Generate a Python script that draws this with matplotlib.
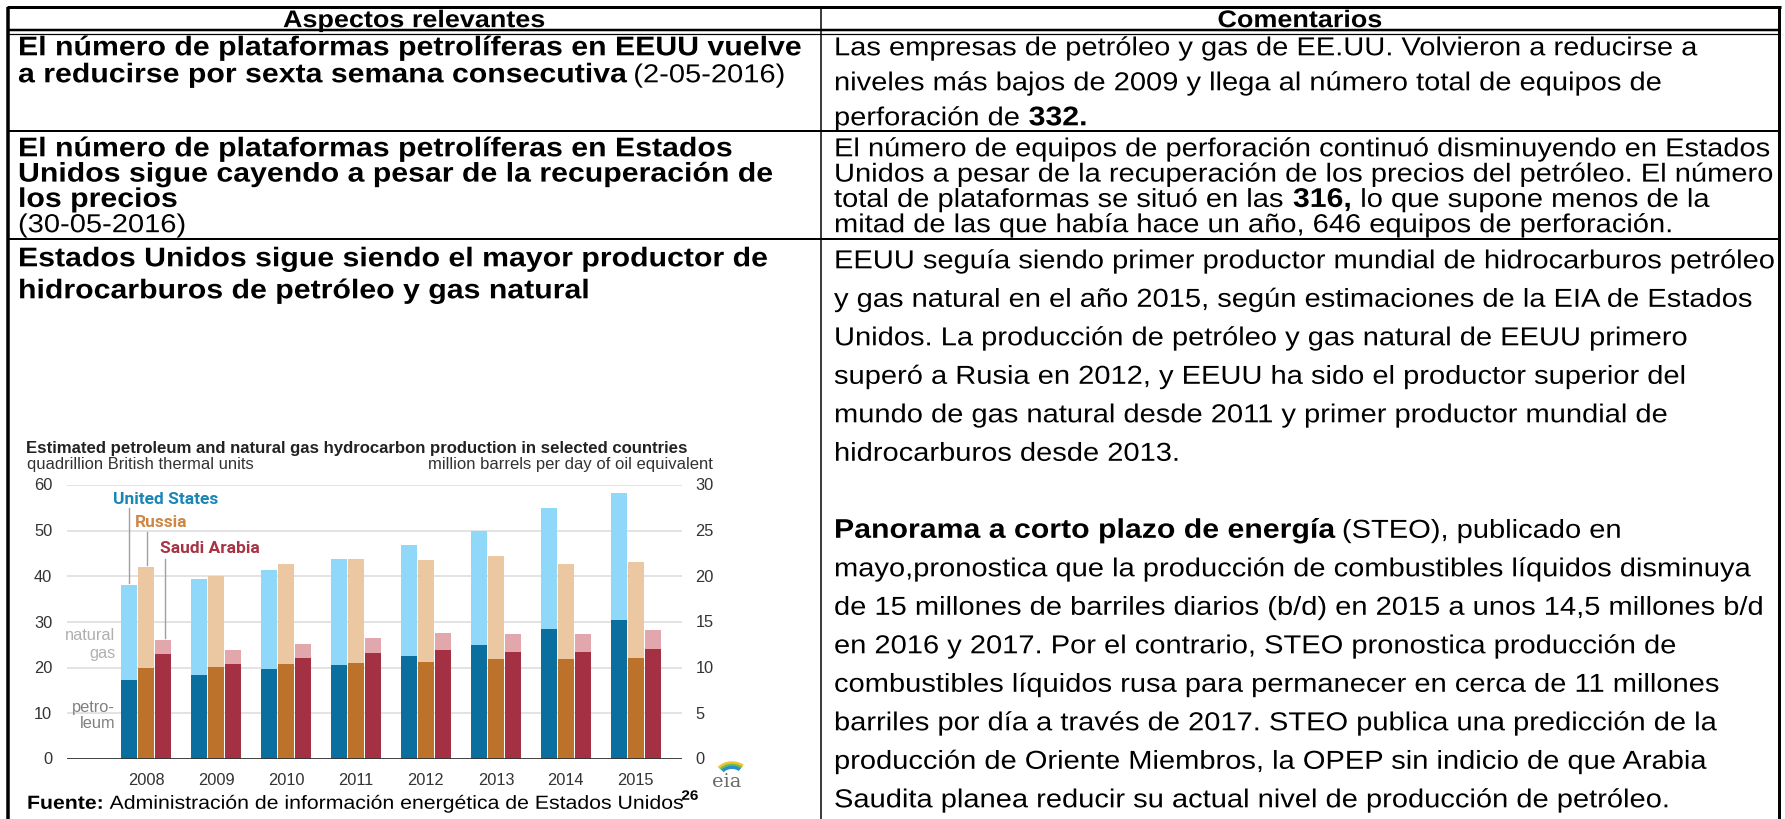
import matplotlib
matplotlib.use('Agg')
import matplotlib.pyplot as plt
from matplotlib.lines import Line2D
from matplotlib.patches import Arc
from matplotlib.patheffects import AbstractPathEffect
from matplotlib.transforms import Affine2D

# ---------------- data ----------------
years = ['2008', '2009', '2010', '2011', '2012', '2013', '2014', '2015']
us_total = [38.1, 39.5, 41.4, 43.9, 46.9, 49.9, 54.9, 58.2]
us_petroleum = [17.2, 18.5, 19.6, 20.5, 22.5, 25.0, 28.5, 30.4]
russia_total = [42.0, 40.0, 42.8, 43.9, 43.6, 44.4, 42.8, 43.1]
russia_petroleum = [19.9, 20.2, 20.8, 21.0, 21.3, 21.8, 21.8, 22.1]
saudi_total = [26.0, 23.8, 25.2, 26.6, 27.7, 27.4, 27.4, 28.2]
saudi_petroleum = [23.0, 20.8, 22.1, 23.3, 23.8, 23.5, 23.5, 24.1]
left_ticks = [0, 10, 20, 30, 40, 50, 60]
right_ticks = [0, 5, 10, 15, 20, 25, 30]

header_left = 'Aspectos relevantes'
header_right = 'Comentarios'

row1_left = [[('El número de plataformas petrolíferas en EEUU vuelve', 'bold')],
             [('a reducirse por sexta semana consecutiva', 'bold'), (' (2-05-2016)', 'normal')]]
row1_right = [[('Las empresas de petróleo y gas de EE.UU. Volvieron a reducirse a', 'normal')],
              [('niveles más bajos de 2009 y llega al número total de equipos de', 'normal')],
              [('perforación de ', 'normal'), ('332.', 'bold')]]
row2_left = [[('El número de plataformas petrolíferas en Estados', 'bold')],
             [('Unidos sigue cayendo a pesar de la recuperación de', 'bold')],
             [('los precios', 'bold')],
             [('(30-05-2016)', 'normal')]]
row2_right = [[('El número de equipos de perforación continuó disminuyendo en Estados', 'normal')],
              [('Unidos a pesar de la recuperación de los precios del petróleo. El número', 'normal')],
              [('total de plataformas se situó en las ', 'normal'), ('316,', 'bold'),
               (' lo que supone menos de la', 'normal')],
              [('mitad de las que había hace un año, 646 equipos de perforación.', 'normal')]]
row3_left = [[('Estados Unidos sigue siendo el mayor productor de', 'bold')],
             [('hidrocarburos de petróleo y gas natural', 'bold')]]
row3_right = [[('EEUU seguía siendo primer productor mundial de hidrocarburos petróleo', 'normal')],
              [('y gas natural en el año 2015, según estimaciones de la EIA de Estados', 'normal')],
              [('Unidos. La producción de petróleo y gas natural de EEUU primero', 'normal')],
              [('superó a Rusia en 2012, y EEUU ha sido el productor superior del', 'normal')],
              [('mundo de gas natural desde 2011 y primer productor mundial de', 'normal')],
              [('hidrocarburos desde 2013.', 'normal')],
              [],
              [('Panorama a corto plazo de energía', 'bold'), (' (STEO), publicado en', 'normal')],
              [('mayo,pronostica que la producción de combustibles líquidos disminuya', 'normal')],
              [('de 15 millones de barriles diarios (b/d) en 2015 a unos 14,5 millones b/d', 'normal')],
              [('en 2016 y 2017. Por el contrario, STEO pronostica producción de', 'normal')],
              [('combustibles líquidos rusa para permanecer en cerca de 11 millones', 'normal')],
              [('barriles por día a través de 2017. STEO publica una predicción de la', 'normal')],
              [('producción de Oriente Miembros, la OPEP sin indicio de que Arabia', 'normal')],
              [('Saudita planea reducir su actual nivel de producción de petróleo.', 'normal')]]

chart_title = 'Estimated petroleum and natural gas hydrocarbon production in selected countries'
left_unit = 'quadrillion British thermal units'
right_unit = 'million barrels per day of oil equivalent'
source_runs = [('Fuente:', 'bold'), (' Administración de información energética de Estados Unidos', 'normal')]
source_note = '26'

# ---------------- figure ----------------
W, H = 1785, 820
fig = plt.figure(figsize=(W / 100, H / 100), dpi=100)
fig.patch.set_facecolor('white')
FONT = 'Liberation Sans'
renderer = fig.canvas.get_renderer()


class StretchX(AbstractPathEffect):
    """Draw text glyphs slightly widened horizontally (the document text is set wide)."""

    def __init__(self, sx):
        super().__init__()
        self.sx = sx

    def draw_path(self, renderer, gc, tpath, affine, rgbFace=None):
        renderer.draw_path(gc, tpath, Affine2D().scale(self.sx, 1.0) + affine, rgbFace)


def fx(x):
    return x / W


def fy(y):
    return 1 - y / H


def hline(x0, x1, y, lw):
    fig.add_artist(Line2D([fx(x0), fx(x1)], [fy(y), fy(y)], transform=fig.transFigure,
                          color='black', lw=lw * 0.72, solid_capstyle='butt'))


def vline(x, y0, y1, lw, color='black'):
    fig.add_artist(Line2D([fx(x), fx(x)], [fy(y0), fy(y1)], transform=fig.transFigure,
                          color=color, lw=lw * 0.72, solid_capstyle='butt'))


def text_width(s, size, weight, family=FONT):
    t = fig.text(0, 0, 'X' + s + 'X', fontsize=size, fontweight=weight, family=family)
    t2 = fig.text(0, 0, 'XX', fontsize=size, fontweight=weight, family=family)
    w = t.get_window_extent(renderer).width - t2.get_window_extent(renderer).width
    t.remove()
    t2.remove()
    return w


def draw_runs(x, yc, runs, sizes, ha='left', family=FONT, color='black', sx=1.0):
    widths = [text_width(s, sizes[w], w, family) * sx for s, w in runs]
    total = sum(widths)
    if ha == 'center':
        x -= total / 2
    elif ha == 'right':
        x -= total
    ref = sizes['normal'] if 'normal' in sizes else sizes['bold']
    base = yc + 0.358 * ref * 100 / 72
    for (s, w), wd in zip(runs, widths):
        lead = len(s) - len(s.lstrip(' '))
        off = text_width(' ' * lead, sizes[w], w, family) * sx if lead else 0
        t = fig.text(fx(x + off), fy(base), s.strip(' '), fontsize=sizes[w], fontweight=w,
                     family=family, va='baseline', ha='left', color=color)
        if sx != 1.0:
            t.set_path_effects([StretchX(sx)])
        x += wd
    return x


def fit(s, weight, target, family=FONT):
    return 20 * target / text_width(s, 20, weight, family)


# document text: width from line length, slightly widened glyphs
SX = 1.12
BODY = fit(row2_right[0][0][0], 'normal', 934) / SX
BOLD = fit(row1_left[0][0][0], 'bold', 783) / SX
HEAD = fit(header_left, 'bold', 262) / SX
TXT = {'normal': BODY, 'bold': BOLD}

# ---------------- table ----------------
XL, XM, XR = 8, 821, 1779
Y_TOP = 8
hline(XL - 1.5, XR + 1.5, Y_TOP, 3)
vline(XL, Y_TOP, H, 3.5)
vline(XR, Y_TOP, H, 3)
vline(XM, Y_TOP, H, 1.5)
hline(XL, XR, 31, 2.5)
hline(XL, XR, 34.5, 1.2)
hline(XL, XR, 132, 2)
hline(XL, XR, 240, 2)

LX = 18
RX = 834
draw_runs((XL + XM) / 2, 19.5, [(header_left, 'bold')], {'bold': HEAD}, ha='center', sx=SX)
draw_runs((XM + XR) / 2, 19.5, [(header_right, 'bold')], {'bold': HEAD}, ha='center', sx=SX)

for i, line in enumerate(row1_left):
    draw_runs(LX, 47 + i * 27, line, TXT, sx=SX)
for i, line in enumerate(row1_right):
    draw_runs(RX, 47 + i * 35, line, TXT, sx=SX)
for i, line in enumerate(row2_left):
    draw_runs(LX, 148 + i * 25.3, line, TXT, sx=SX)
for i, line in enumerate(row2_right):
    draw_runs(RX, 148 + i * 25.3, line, TXT, sx=SX)
for i, line in enumerate(row3_left):
    draw_runs(LX, 258 + i * 32, line, TXT, sx=SX)
for i, line in enumerate(row3_right):
    if line:
        draw_runs(RX, 260 + i * 38.5, line, TXT, sx=SX)

# ---------------- chart ----------------
AX_L, AX_R, AX_B, AX_T = 67, 682, 760, 486
ax = fig.add_axes([fx(AX_L), fy(AX_B), (AX_R - AX_L) / W, (AX_B - AX_T) / H])
ax.set_xlim(-1.13, 7.66)
ax.set_ylim(0, 60)
for s in ax.spines.values():
    s.set_visible(False)
ax.set_xticks([])
ax.set_yticks([])
for v in left_ticks[1:]:
    ax.axhline(v, color='#dedede', lw=1.2, zorder=0)
ax.axhline(0, color='#333333', lw=1.3, zorder=3)

x = list(range(len(years)))
bw = 0.225
off = 0.245
col = {
    'us': ('#0a6f9e', '#8fd8fa'),
    'ru': ('#bd722b', '#ebc7a2'),
    'sa': ('#a33143', '#e2a6ad'),
}
for k, (tot, pet), d in [('us', (us_total, us_petroleum), -off),
                         ('ru', (russia_total, russia_petroleum), 0),
                         ('sa', (saudi_total, saudi_petroleum), off)]:
    xs = [xi + d for xi in x]
    gas = [t - p for t, p in zip(tot, pet)]
    ax.bar(xs, pet, bw, color=col[k][0], zorder=2, linewidth=0)
    ax.bar(xs, gas, bw, bottom=pet, color=col[k][1], zorder=2, linewidth=0)

TICK = 11.8
for v in left_ticks:
    ax.text(-0.024, v, str(v), transform=ax.get_yaxis_transform(), ha='right', va='center',
            fontsize=TICK, family=FONT, color='#333333')
ax2 = ax.twinx()
ax2.set_ylim(0, 30)
ax2.set_yticks([])
for s in ax2.spines.values():
    s.set_visible(False)
for v in right_ticks:
    ax2.text(1.022, v, str(v), transform=ax2.get_yaxis_transform(), ha='left', va='center',
             fontsize=TICK, family=FONT, color='#333333')
for xi, yr in zip(x, years):
    ax.text(xi, -0.075, yr, transform=ax.get_xaxis_transform(), ha='center', va='center',
            fontsize=TICK, family=FONT, color='#333333')

# series labels with leader lines
LAB = fit('United States', 'bold', 105, 'Roboto')
ax.text(-0.475, 57.1, 'United States', fontsize=LAB, fontweight='bold', family='Roboto',
        color='#1a86b6', ha='left', va='center')
ax.text(-0.16, 52.1, 'Russia', fontsize=LAB, fontweight='bold', family='Roboto',
        color='#cd8747', ha='left', va='center')
ax.text(0.20, 46.4, 'Saudi Arabia', fontsize=LAB, fontweight='bold', family='Roboto',
        color='#a73446', ha='left', va='center')
ax.plot([-off, -off], [us_total[0] + 0.5, 55.0], color='#a0a0a0', lw=1, zorder=1)
ax.plot([0.013, 0.013], [russia_total[0] + 0.5, 49.6], color='#a0a0a0', lw=1, zorder=1)
ax.plot([0.27, 0.27], [saudi_total[0] + 0.5, 43.9], color='#a0a0a0', lw=1, zorder=1)

ax.text(-0.44, 27.3, 'natural', fontsize=TICK, family=FONT, color='#b0b0b0', ha='right', va='center')
ax.text(-0.44, 23.4, 'gas', fontsize=TICK, family=FONT, color='#b0b0b0', ha='right', va='center')
ax.text(-0.44, 11.4, 'petro-', fontsize=TICK, family=FONT, color='#808080', ha='right', va='center')
ax.text(-0.44, 8.1, 'leum', fontsize=TICK, family=FONT, color='#808080', ha='right', va='center')

# chart title & units
TS = fit(chart_title, 'bold', 663)
draw_runs(26, 447, [(chart_title, 'bold')], {'bold': TS}, color='#222222')
UL = fit(left_unit, 'normal', 225)
UR = fit(right_unit, 'normal', 283)
draw_runs(27, 463, [(left_unit, 'normal')], {'normal': UL}, color='#333333')
draw_runs(713, 463, [(right_unit, 'normal')], {'normal': UR}, ha='right', color='#333333')

# source line (document text, drawn like the table)
SRC = 15.3 / SX
xe = draw_runs(27, 803, source_runs, {'normal': SRC, 'bold': SRC}, sx=SX)
t26 = fig.text(fx(xe + 1), fy(803 + 0.358 * SRC * 100 / 72 - 9), source_note, fontsize=11 / SX,
               fontweight='bold', family=FONT, va='baseline', ha='left')
t26.set_path_effects([StretchX(SX)])

# eia logo
fig.text(fx(727), fy(787), 'eia', fontsize=14, family='DejaVu Serif', color='#6b6b6b',
         ha='center', va='baseline')
lax = fig.add_axes([fx(712), fy(776), 34 / W, 16 / H])
lax.set_xlim(0, 34)
lax.set_ylim(0, 16)
lax.axis('off')
for c, r, th in [('#f2c230', 18, 2.2), ('#6cbf4a', 15.5, 2.0), ('#2a8fd0', 13, 2.4)]:
    lax.add_patch(Arc((20, -4), 2 * r, 2 * r * 0.9, theta1=50, theta2=140, color=c, lw=th))

fig.savefig('out.png', dpi=100, facecolor='white')
